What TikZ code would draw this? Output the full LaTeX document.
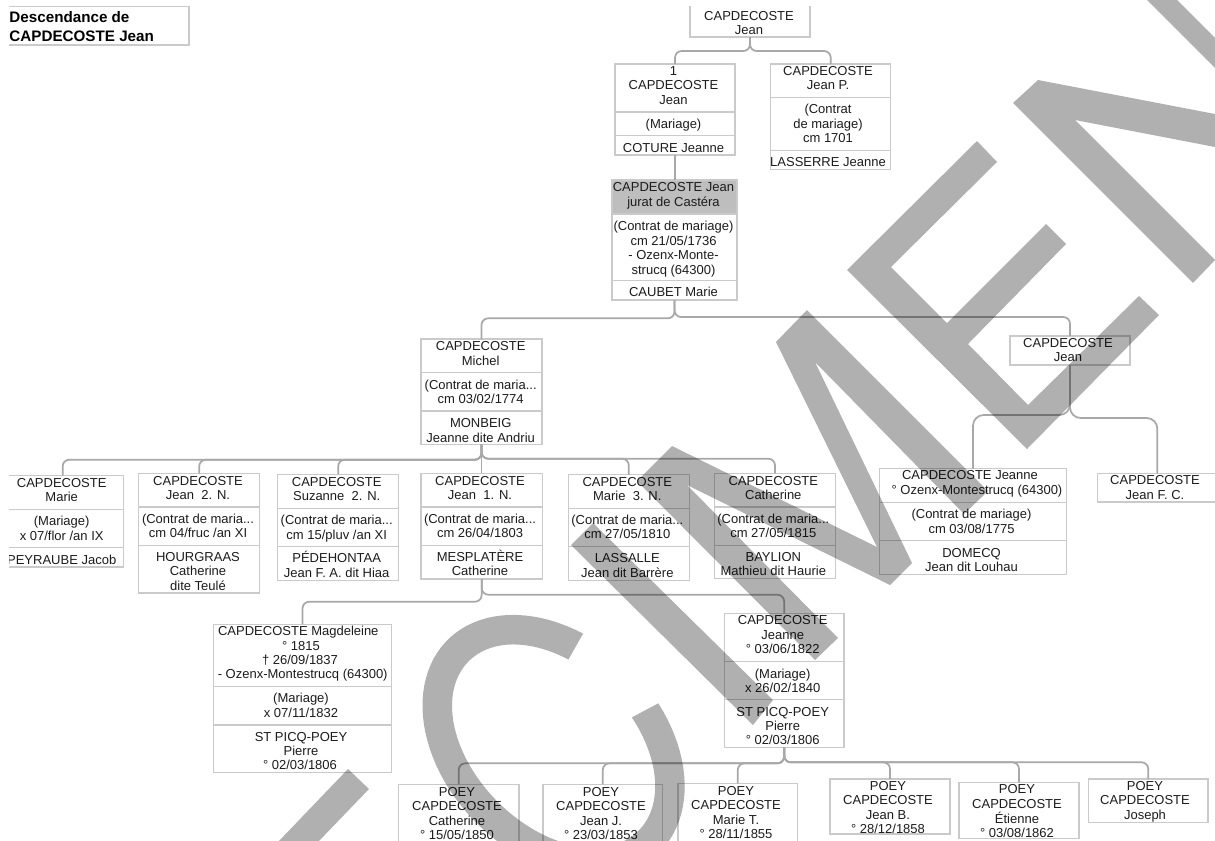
\documentclass[tikz,border=0pt]{standalone}
\usepackage{fontspec}
\setmainfont{Liberation Sans}
\definecolor{boxline}{HTML}{CACACA}
\definecolor{connline}{HTML}{A8A8A8}
\definecolor{focusfill}{HTML}{BEBEBE}
\definecolor{ink}{HTML}{1C1C1C}
\newcounter{tlc}
\tikzset{
  cellbox/.style={draw=boxline,line width=0.9pt,inner sep=0pt,outer sep=0pt,rectangle},
  lbl/.style={inner sep=0pt,outer sep=0pt,text=ink,font=\fontsize{9.75}{10.8}\selectfont,text height=7pt,text depth=0pt,anchor=center},
  ttl/.style={inner sep=0pt,outer sep=0pt,text=black,font=\fontsize{11.4}{13}\selectfont\bfseries,text height=8.2pt,text depth=0pt,anchor=west},
  conn/.style={draw=connline,line width=1.3pt,rounded corners=5pt},
  wmark/.style={fill=black,fill opacity=0.31,draw=none}
}
% cell: [options]{name}{x1}{y1}{x2}{y2}
\newcommand{\cell}[6][]{%
  \pgfmathsetmacro{\cw}{(#5-#3)*0.75}%
  \pgfmathsetmacro{\ch}{(#6-#4)*0.75}%
  \pgfmathsetmacro{\cx}{(#3+#5)/2}%
  \pgfmathsetmacro{\cy}{(#4+#6)/2}%
  \node[cellbox,#1,minimum width=\cw pt,minimum height=\ch pt] (#2) at (\cx,\cy) {};}
\newcommand{\tl}[3]{\stepcounter{tlc}\node[lbl] (t\arabic{tlc}) at (#1,#2) {#3};}
\begin{document}
\begin{tikzpicture}[x=0.75pt,y=-0.75pt]
\clip (0,0) rectangle (1215,840);
\fill[white] (0,0) rectangle (1215,840);

% ---- boxes
\cell{title}{8}{6.5}{189}{45}
\cell{root}{690}{0}{810}{37}
\cell{ca}{615}{64}{735}{112}\cell{cb}{615}{112}{735}{135.7}\cell{cc}{615}{135.7}{735}{155}
\cell{da}{770.7}{64}{890.7}{97.7}\cell{db}{770.7}{97.7}{890.7}{150.3}\cell{dc}{770.7}{150.3}{890.7}{169.3}
\cell[fill=focusfill]{fa}{612}{180}{737}{214}\cell{fb}{612}{214}{737}{280.7}\cell{fc}{612}{280.7}{737}{300}
\cell{ma}{421}{339}{542}{372.3}\cell{mb}{421}{372.3}{542}{411}\cell{mc}{421}{411}{542}{444.3}
\cell{rj}{1010}{336}{1130}{365}
\cell{ka}{2}{475.7}{123.3}{509.3}\cell{kb}{2}{509.3}{123.3}{547.7}\cell{kc}{2}{547.7}{123.3}{567}
\cell{la}{138.7}{473.3}{259.7}{507}\cell{lb}{138.7}{507}{259.7}{545.3}\cell{lc}{138.7}{545.3}{259.7}{593}
\cell{sa}{277.7}{474.3}{398.7}{508.3}\cell{sb}{277.7}{508.3}{398.7}{546.7}\cell{sc}{277.7}{546.7}{398.7}{580.3}
\cell{na}{421}{473.3}{542.3}{507}\cell{nb}{421}{507}{542.3}{545.3}\cell{nc}{421}{545.3}{542.3}{579}
\cell{oa}{568.3}{474.7}{689.3}{508.3}\cell{ob}{568.3}{508.3}{689.3}{546.7}\cell{oc}{568.3}{546.7}{689.3}{580.3}
\cell{qa}{714.3}{473.3}{835.7}{507}\cell{qb}{714.3}{507}{835.7}{545.3}\cell{qc}{714.3}{545.3}{835.7}{578.7}
\cell{ja}{879.3}{468.7}{1066.7}{502.3}\cell{jb}{879.3}{502.3}{1066.7}{540.7}\cell{jc}{879.3}{540.7}{1066.7}{574.3}
\cell{fcb}{1097.7}{473.3}{1217}{502}
\cell{ga}{213.3}{624.3}{391.7}{686.7}\cell{gb}{213.3}{686.7}{391.7}{725}\cell{gc}{213.3}{725}{391.7}{772.7}
\cell{ha}{724.3}{613.7}{844}{661.3}\cell{hb}{724.3}{661.3}{844}{699.7}\cell{hc}{724.3}{699.7}{844}{747.3}
\cell{pa}{398.4}{784.3}{519}{850}
\cell{pb}{543}{784.3}{662.5}{850}
\cell{pc}{678}{783.3}{797.5}{850}
\cell{pd}{830}{779}{950}{834}
\cell{pe}{959}{782.3}{1079}{838.3}
\cell{pf}{1088.5}{779}{1208}{822.3}

% ---- connectors
\draw[conn] (root.south) -- ++(0,14) -| (ca.north);
\draw[conn] (root.south) -- ++(0,14) -| (da.north);
\draw[conn] (cc.south) -- (cc.south |- fa.north);
\draw[conn] (fc.south) -- ++(0,18.3) -| (ma.north);
\draw[conn] (fc.south) -- ++(0,17) -| (rj.north);
\draw[conn] (mc.south) -- ++(0,15.4) -| (ka.north);
\draw[conn] (mc.south) -- ++(0,15.4) -| (la.north);
\draw[conn] (mc.south) -- ++(0,15.4) -| (sa.north);
\draw[conn] (mc.south) -- (mc.south |- na.north);
\draw[conn] (mc.south) -- ++(0,14.4) -| (oa.north);
\draw[conn] (mc.south) -- ++(0,14.4) -| (qa.north);
\draw[conn,rounded corners=8pt] (rj.south) -- ++(0,50) -| (ja.north);
\draw[conn,rounded corners=8pt] (rj.south) -- ++(0,53) -| (fcb.north);
\draw[conn] (nc.south) -- ++(0,22.7) -| (ga.north);
\draw[conn] (nc.south) -- ++(0,15.7) -| (ha.north);
\draw[conn] (hc.south) -- ++(0,16) -| (pa.north);
\draw[conn] (hc.south) -- ++(0,16) -| (pb.north);
\draw[conn] (hc.south) -- ++(0,16) -| (pc.north);
\draw[conn] (hc.south) -- ++(0,15) -| (pd.north);
\draw[conn] (hc.south) -- ++(0,15) -| (pe.north);
\draw[conn] (hc.south) -- ++(0,15) -| (pf.north);

% ---- texts
\node[ttl] (ttla) at (9.5,16.7) {Descendance de};
\node[ttl] (ttlb) at (9.5,35.7) {CAPDECOSTE Jean};
\tl{749}{16}{CAPDECOSTE}\tl{749}{30}{Jean}
\tl{673.5}{70.7}{1}\tl{673.5}{85.3}{CAPDECOSTE}\tl{673.5}{100}{Jean}
\tl{673.5}{124}{(Mariage)}\tl{673.5}{147.7}{COTURE Jeanne}
\tl{828}{71}{CAPDECOSTE}\tl{828}{85.3}{Jean P.}
\tl{828}{109.3}{(Contrat}\tl{828}{124}{de mariage)}\tl{828}{138}{cm 1701}
\tl{828}{162}{LASSERRE Jeanne}
\tl{673.5}{187}{CAPDECOSTE Jean}\tl{673.5}{202}{jurat de Castéra}
\tl{673.5}{226}{(Contrat de mariage)}\tl{673.5}{240.6}{cm 21/05/1736}
\tl{673.5}{255}{- Ozenx-Monte-}\tl{673.5}{270}{strucq (64300)}
\tl{673.5}{292}{CAUBET Marie}
\tl{480.7}{346}{CAPDECOSTE}\tl{480.7}{360.7}{Michel}
\tl{480.7}{385}{(Contrat de maria...}\tl{480.7}{399}{cm 03/02/1774}
\tl{480.7}{423}{MONBEIG}\tl{480.7}{437.5}{Jeanne dite Andriu}
\tl{1068}{342.7}{CAPDECOSTE}\tl{1068}{357.3}{Jean}
\tl{61.7}{483}{CAPDECOSTE}\tl{61.7}{497}{Marie}
\tl{61.7}{521}{(Mariage)}\tl{61.7}{535.5}{x 07/flor /an IX}
\tl{61.7}{559.5}{PEYRAUBE Jacob}
\tl{198}{480.7}{CAPDECOSTE}\tl{198}{494.7}{Jean~~2. N.}
\tl{198}{519}{(Contrat de maria...}\tl{198}{533}{cm 04/fruc /an XI}
\tl{198}{557}{HOURGRAAS}\tl{198}{571}{Catherine}\tl{198}{585.7}{dite Teulé}
\tl{336.7}{481.7}{CAPDECOSTE}\tl{336.7}{496}{Suzanne~~2. N.}
\tl{336.7}{520}{(Contrat de maria...}\tl{336.7}{534.5}{cm 15/pluv /an XI}
\tl{336.7}{558}{PÉDEHONTAA}\tl{336.7}{572.5}{Jean F. A. dit Hiaa}
\tl{480}{480.7}{CAPDECOSTE}\tl{480}{495}{Jean~~1. N.}
\tl{480}{519}{(Contrat de maria...}\tl{480}{533}{cm 26/04/1803}
\tl{480}{557}{MESPLATÈRE}\tl{480}{571}{Catherine}
\tl{627.3}{481.7}{CAPDECOSTE}\tl{627.3}{496}{Marie~~3. N.}
\tl{627.3}{520}{(Contrat de maria...}\tl{627.3}{534.3}{cm 27/05/1810}
\tl{627.3}{558}{LASSALLE}\tl{627.3}{572.5}{Jean dit Barrère}
\tl{773.3}{480.7}{CAPDECOSTE}\tl{773.3}{494.7}{Catherine}
\tl{773.3}{519}{(Contrat de maria...}\tl{773.3}{533}{cm 27/05/1815}
\tl{773.3}{557}{BAYLION}\tl{773.3}{571}{Mathieu dit Haurie}
\tl{970}{475.3}{CAPDECOSTE Jeanne}\tl{977}{490}{° Ozenx-Montestrucq (64300)}
\tl{971.5}{514.3}{(Contrat de mariage)}\tl{971.5}{528.7}{cm 03/08/1775}
\tl{971.5}{552.5}{DOMECQ}\tl{971.5}{567}{Jean dit Louhau}
\tl{1155}{480.3}{CAPDECOSTE}\tl{1155}{495}{Jean F. C.}
\tl{298.3}{631.3}{CAPDECOSTE Magdeleine}\tl{301}{645.7}{° 1815}
\tl{300}{660}{† 26/09/1837}\tl{302.7}{674}{- Ozenx-Montestrucq (64300)}
\tl{301}{698.3}{(Mariage)}\tl{301}{712.7}{x 07/11/1832}
\tl{301}{736.7}{ST PICQ-POEY}\tl{301}{751}{Pierre}\tl{300}{765.3}{° 02/03/1806}
\tl{782.7}{620.3}{CAPDECOSTE}\tl{782.7}{634.7}{Jeanne}\tl{782.7}{649}{° 03/06/1822}
\tl{782.7}{673.7}{(Mariage)}\tl{782.7}{687.7}{x 26/02/1840}
\tl{782.7}{711.7}{ST PICQ-POEY}\tl{782.7}{725.7}{Pierre}\tl{782.7}{740}{° 02/03/1806}
\tl{457}{791.7}{POEY}\tl{457}{806}{CAPDECOSTE}\tl{457}{820.7}{Catherine}\tl{457}{834.5}{° 15/05/1850}
\tl{601}{791.7}{POEY}\tl{601}{806}{CAPDECOSTE}\tl{601}{820.7}{Jean J.}\tl{601}{834.5}{° 23/03/1853}
\tl{736}{790.7}{POEY}\tl{736}{805}{CAPDECOSTE}\tl{736}{819.5}{Marie T.}\tl{736}{834}{° 28/11/1855}
\tl{888}{785.7}{POEY}\tl{888}{800}{CAPDECOSTE}\tl{888}{815}{Jean B.}\tl{888}{828.7}{° 28/12/1858}
\tl{1017}{789.3}{POEY}\tl{1017}{803.7}{CAPDECOSTE}\tl{1017}{818.7}{Étienne}\tl{1017}{833}{° 03/08/1862}
\tl{1145}{785.7}{POEY}\tl{1145}{800}{CAPDECOSTE}\tl{1145}{814.7}{Joseph}

% ---- the page margins hide what passes them
\fill[white] (0,0) rectangle (9,840);
\fill[white] (0,0) rectangle (1215,6);

% ---- SPECIMEN watermark
\fill[wmark] (1147,0) -- (1215,68) -- (1215,38) -- (1177,0) -- cycle;
\fill[wmark] (1038,80) -- (1215,114) -- (1215,147) -- (1075,120) -- (1215,260) -- (1193,283) -- (1013,103) -- cycle;
\fill[wmark] (977,141) -- (997,162) -- (891,267) -- (947,323) -- (1046,224) -- (1066,244) -- (968,344) -- (1028,405) -- (1139,296) -- (1159,315) -- (1027,449) -- (847,270) -- cycle;
\fill[wmark] (672,446) -- (877,547) -- (776,342) -- (807,310) -- (988,491) -- (964,514) -- (815,362) -- (912,563) -- (890,585) -- (687,485) -- (838,638) -- (815,660) -- (637,481) -- cycle;
\fill[wmark] (571,545) -- (593,523) -- (773,700) -- (753,725) -- cycle;
\fill[wmark] plot[domain=-23:-343,samples=90] ({553.6+(109*cos(\x)+150*sin(\x))*0.7071},{746+(-109*cos(\x)+150*sin(\x))*0.7071})
  -- plot[domain=-343:-25,samples=90] ({553.6+(79*cos(\x)+120*sin(\x))*0.7071},{746+(-79*cos(\x)+120*sin(\x))*0.7071}) -- cycle;
\fill[wmark] (348,769) -- (369,789) -- (318,842) -- (278,842) -- cycle;
\end{tikzpicture}
\end{document}
